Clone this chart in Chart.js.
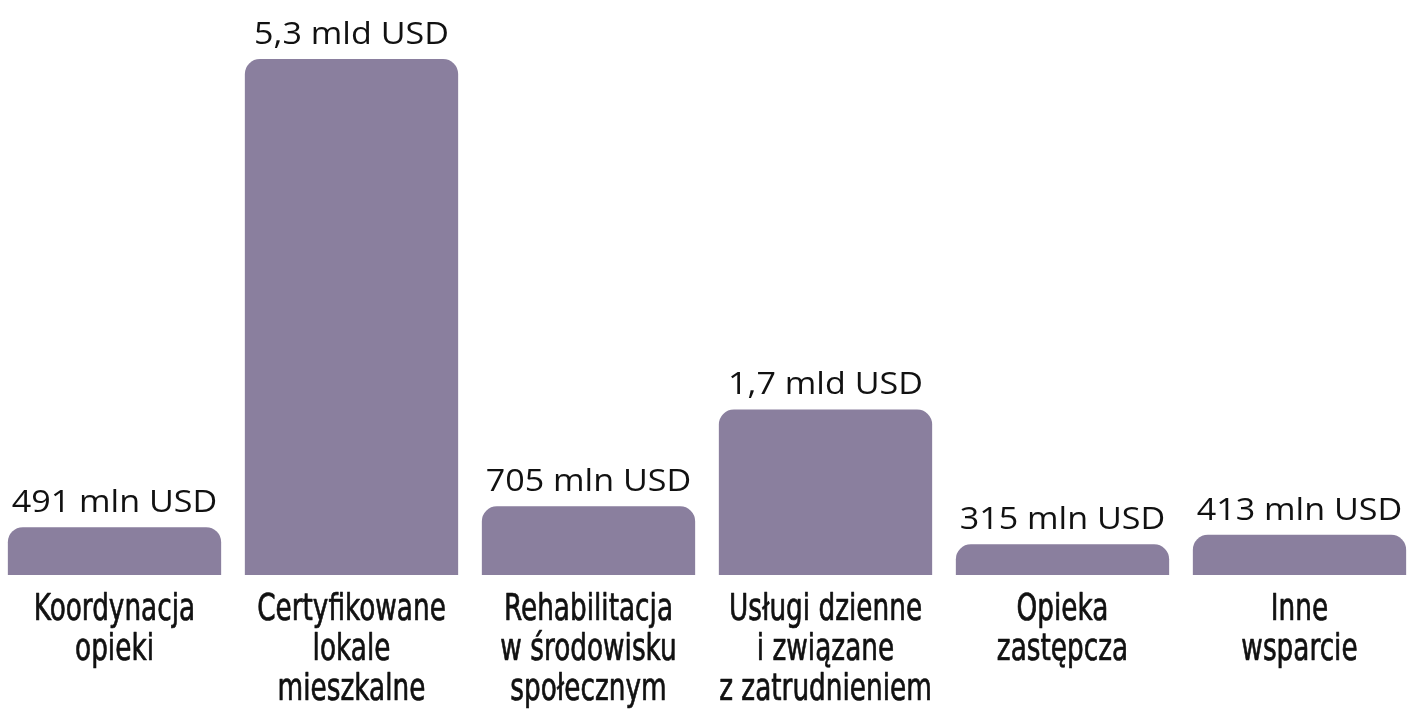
<!DOCTYPE html>
<html><head><meta charset="utf-8">
<script src="https://cdn.jsdelivr.net/npm/chart.js@4"></script>
<style>html,body{margin:0;padding:0;background:#fff;overflow:hidden;width:1414px;height:713px}#wrap{position:absolute;left:-4px;top:0;width:1422px;height:713px}</style>
</head><body><div id="wrap"><canvas id="c"></canvas></div>
<script>
const categories = [
  ["Koordynacja","opieki"],
  ["Certyfikowane","lokale","mieszkalne"],
  ["Rehabilitacja","w środowisku","społecznym"],
  ["Usługi dzienne","i związane","z zatrudnieniem"],
  ["Opieka","zastępcza"],
  ["Inne","wsparcie"]
];
const valuesMlnUSD = [491, 5300, 705, 1700, 315, 413];
const valueLabels = ["491 mln USD","5,3 mld USD","705 mln USD","1,7 mld USD","315 mln USD","413 mln USD"];

const valueLabelPlugin = {
  id: 'valueLabels',
  afterDatasetsDraw(chart) {
    const ctx = chart.ctx;
    const meta = chart.getDatasetMeta(0);
    ctx.save();
    ctx.font = '31px "Open Sans", sans-serif';
    ctx.fillStyle = '#111';
    ctx.textAlign = 'center';
    ctx.textBaseline = 'alphabetic';
    meta.data.forEach((bar, i) => {
      ctx.save();
      ctx.translate(bar.x, bar.y - 15);
      ctx.scale(1.1, 1);
      ctx.fillText(valueLabels[i], 0, 0);
      ctx.restore();
    });
    ctx.restore();
  }
};

// category labels drawn under the bars in a condensed style
const categoryLabelPlugin = {
  id: 'categoryLabels',
  afterDraw(chart) {
    const ctx = chart.ctx;
    const xs = chart.scales.x;
    const bottom = chart.chartArea.bottom;
    const sx = 0.77;
    ctx.save();
    ctx.font = '38px "DejaVu Sans Condensed", sans-serif';
    ctx.fillStyle = '#111';
    ctx.strokeStyle = '#111';
    ctx.lineWidth = 0.7;
    ctx.lineJoin = 'round';
    ctx.textAlign = 'center';
    ctx.textBaseline = 'alphabetic';
    categories.forEach((lines, i) => {
      const x = xs.getPixelForValue(i);
      lines.forEach((line, j) => {
        ctx.save();
        ctx.translate(x, bottom + 45 + j * 40);
        ctx.scale(sx, 1);
        ctx.fillText(line, 0, 0);
        ctx.strokeText(line, 0, 0);
        ctx.restore();
      });
    });
    ctx.restore();
  }
};

new Chart(document.getElementById('c'), {
  type: 'bar',
  data: {
    labels: categories,
    datasets: [{
      data: valuesMlnUSD,
      backgroundColor: '#8A7F9E',
      borderRadius: {topLeft: 15, topRight: 15, bottomLeft: 0, bottomRight: 0},
      borderSkipped: false,
      barPercentage: 0.9,
      categoryPercentage: 1
    }]
  },
  options: {
    responsive: true,
    maintainAspectRatio: false,
    animation: false,
    layout: {padding: {top: 59, left: 0, right: 0, bottom: 138}},
    plugins: {legend: {display: false}, tooltip: {enabled: false}},
    scales: {
      x: {display: false},
      y: {display: false, min: 0, max: 5300}
    }
  },
  plugins: [valueLabelPlugin, categoryLabelPlugin]
});
</script></body></html>
